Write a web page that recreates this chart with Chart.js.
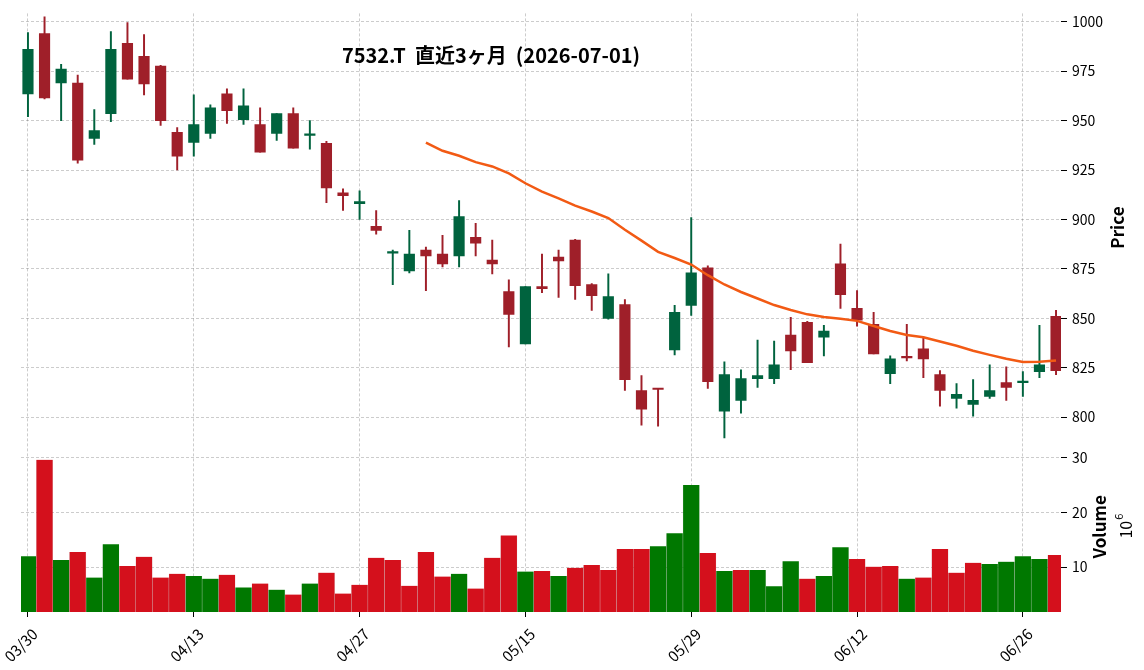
<!DOCTYPE html>
<html lang="ja">
<head>
<meta charset="utf-8">
<title>7532.T 直近3ヶ月</title>
<script src="https://cdn.jsdelivr.net/npm/chart.js@4.4.1/dist/chart.umd.min.js"></script>
<style>
  html, body { margin: 0; padding: 0; background: #fff; }
  #wrap { width: 1144px; height: 670px; }
</style>
</head>
<body>
<div id="wrap"><canvas id="chart" width="1144" height="670"></canvas></div>
<script>
// 営業日
const dates = ['03/30','03/31','04/01','04/02','04/03','04/06','04/07','04/08','04/09','04/10',
  '04/13','04/14','04/15','04/16','04/17','04/20','04/21','04/22','04/23','04/24',
  '04/27','04/28','04/30','05/01','05/07','05/08','05/11','05/12','05/13','05/14',
  '05/15','05/18','05/19','05/20','05/21','05/22','05/25','05/26','05/27','05/28',
  '05/29','06/01','06/02','06/03','06/04','06/05','06/08','06/09','06/10','06/11',
  '06/12','06/15','06/16','06/17','06/18','06/19','06/22','06/23','06/24','06/25',
  '06/26','06/29','06/30'];
const xTickIdx = [0, 10, 20, 30, 40, 50, 60];

// 四本値
const opens = [963.5, 994, 969, 969, 941, 953.5, 989, 982.5, 977.5, 944,
  939, 943.5, 963.5, 950.5, 948, 943.5, 953.5, 942.5, 938.5, 913.5,
  908, 896.5, 883, 874, 884.5, 882.5, 881.5, 891, 879.5, 863.5,
  837, 866, 881, 889.5, 867, 850, 857, 813.5, 814.5, 834,
  856.5, 875.5, 803, 808.5, 819.5, 819.5, 841.5, 848, 840.5, 877.5,
  855, 847, 822, 830.5, 834.5, 821.5, 809.5, 806.5, 810.5, 817.5,
  817.5, 823, 851];
const highs = [994.5, 1002.5, 978.5, 973, 955.5, 995, 999.5, 993.5, 978, 946.5,
  963, 958, 966, 966, 956.5, 953.5, 956.5, 950, 939.5, 915.5,
  914.5, 904.5, 884.5, 894.5, 886, 892, 909.5, 898, 889.5, 869.5,
  866, 882.5, 884.5, 890, 867.5, 872.5, 859.5, 821, 814.5, 856.5,
  901, 876.5, 828, 824, 839, 838.5, 850.5, 848.5, 846.5, 887.5,
  864, 853, 831, 847, 840.5, 823.5, 817, 819, 826.5, 825.5,
  823, 846.5, 854];
const lows = [952, 961, 950, 928.5, 938, 949.5, 971, 963, 947.5, 925,
  932, 941, 948.5, 948, 934, 940, 936, 935.5, 908.5, 904.5,
  900, 892.5, 867, 873, 864, 876, 876, 881.5, 872.5, 835.5,
  837, 863, 860.5, 859.5, 854, 849.5, 813.5, 796, 795.5, 831.5,
  851.5, 814.5, 789.5, 802, 815, 817, 824, 827.5, 831, 855,
  846, 832, 817, 828.5, 820, 805.5, 804.5, 800.5, 809.5, 808.5,
  810.5, 820, 821.5];
const closes = [986, 961.5, 976, 930, 945, 986, 971, 968.5, 950, 932,
  948, 956.5, 955, 957.5, 934, 953.5, 936, 943, 916, 912,
  909, 894.5, 883.5, 882.5, 881.5, 877.5, 901.5, 888, 877.5, 852,
  866, 865, 879, 866.5, 861.5, 861, 819, 804, 814, 853,
  873, 818, 821.5, 819.5, 821, 826.5, 833.5, 827.5, 843.5, 862,
  849, 832, 829.5, 830, 829.5, 813.5, 811.5, 808.5, 813.5, 815,
  818, 826.5, 823.5];

// 出来高 (10^6)
const volumes = [12.0, 29.6, 11.3, 12.75, 8.1, 14.2, 10.2, 11.9, 8.1, 8.8,
  8.4, 7.9, 8.6, 6.3, 7.0, 5.9, 5.0, 7.0, 9.0, 5.2,
  6.8, 11.7, 11.3, 6.6, 12.75, 8.3, 8.8, 6.1, 11.7, 15.8,
  9.2, 9.3, 8.4, 9.9, 10.4, 9.5, 13.3, 13.3, 13.8, 16.2,
  25.0, 12.6, 9.3, 9.5, 9.5, 6.5, 11.1, 7.9, 8.4, 13.65,
  11.5, 10.1, 10.2, 7.9, 8.1, 13.3, 9.0, 10.8, 10.6, 11.0,
  12.0, 11.5, 12.2];

// 25日移動平均（先頭24日は無し）
const ma25 = Array(24).fill(null).concat([938.9, 934.7, 932.2, 929, 926.8, 923.3,
  918.3, 914.1, 910.7, 907, 904, 900.7, 894.8, 889.3, 883.6, 880.5,
  877.2, 871.8, 867.1, 863.3, 860, 856.7, 854.2, 852, 850.7, 849.8,
  848.7, 846.1, 843.6, 841.6, 840.4, 838.3, 836.1, 833.6, 831.5, 829.5,
  827.9, 828, 828.7]);

const priceTicks = [800, 825, 850, 875, 900, 925, 950, 975, 1000];
const volumeTicks = [10, 20, 30];
const titleText = '7532.T  直近3ヶ月  (2026-07-01)';

const FONT = "'Noto Sans CJK JP', 'Noto Sans', sans-serif";
const UP = '#00633e', DOWN = '#9f1f29';
const VUP = '#007800', VDOWN = '#d4101c';
const GRID = 'rgba(0,0,0,0.25)';

Chart.defaults.font.family = FONT;
Chart.defaults.color = '#000';

const candleColors = opens.map((o, i) => closes[i] >= o ? UP : DOWN);
const volColors = closes.map((c, i) => (i === 0 || c >= closes[i - 1]) ? VUP : VDOWN);

// 軸ラベル・タイトル
const textPlugin = {
  id: 'texts',
  afterDraw(chart) {
    const ctx = chart.ctx;
    const area = chart.chartArea;
    const py = chart.scales.y, vy = chart.scales.v;
    ctx.save();
    ctx.fillStyle = '#000';
    ctx.textAlign = 'center';
    ctx.textBaseline = 'middle';
    ctx.font = 'bold 20px ' + FONT;
    ctx.fillText(titleText, 491, 55);

    ctx.font = '600 17px ' + FONT;
    ctx.save();
    ctx.translate(area.right + 57, (py.top + py.bottom) / 2);
    ctx.rotate(-Math.PI / 2);
    ctx.fillText('Price', 0, 0);
    ctx.restore();

    ctx.save();
    ctx.translate(area.right + 39, (vy.top + vy.bottom) / 2);
    ctx.rotate(-Math.PI / 2);
    ctx.fillText('Volume', 0, 0);
    ctx.restore();

    ctx.save();
    ctx.translate(area.right + 65, (vy.top + vy.bottom) / 2 - 2);
    ctx.rotate(-Math.PI / 2);
    ctx.font = '16px ' + FONT;
    ctx.textAlign = 'right';
    ctx.fillText('10', 4, 0);
    ctx.font = '11px ' + FONT;
    ctx.textAlign = 'left';
    ctx.fillText('6', 5, -7);
    ctx.restore();
    ctx.restore();
  }
};

const xy = (arr) => arr.map((v, i) => ({ x: i, y: v }));

const gridOpts = {
  color: GRID,
  lineWidth: 0.8,
  tickColor: '#000',
  tickBorderDash: [],
  tickLength: 6,
  tickWidth: 1
};
const borderOpts = { display: false, dash: [3, 2] };

new Chart(document.getElementById('chart'), {
  type: 'bar',
  data: {
    datasets: [
      {
        type: 'line',
        label: 'MA25',
        data: xy(ma25),
        yAxisID: 'y',
        borderColor: '#f25a14',
        borderWidth: 2.5,
        pointRadius: 0,
        tension: 0,
        spanGaps: false,
        order: 0
      },
      {
        label: 'body',
        data: opens.map((o, i) => ({ x: i, y: [o, closes[i]] })),
        yAxisID: 'y',
        backgroundColor: candleColors,
        barThickness: 10.5,
        minBarLength: 1.5,
        grouped: false,
        order: 1
      },
      {
        label: 'wick',
        data: lows.map((l, i) => ({ x: i, y: [l, highs[i]] })),
        yAxisID: 'y',
        backgroundColor: candleColors,
        barThickness: 1.3,
        grouped: false,
        order: 2
      },
      {
        label: 'Volume',
        data: xy(volumes),
        yAxisID: 'v',
        backgroundColor: volColors,
        borderColor: 'rgba(0,0,0,0.12)',
        borderWidth: { left: 0.5, right: 0.5, top: 0, bottom: 0 },
        barPercentage: 1,
        categoryPercentage: 1,
        grouped: false,
        order: 3
      }
    ]
  },
  options: {
    responsive: false,
    animation: false,
    events: [],
    layout: { padding: { left: 21, top: 11, right: 0, bottom: 0 } },
    plugins: { legend: { display: false }, tooltip: { enabled: false } },
    scales: {
      x: {
        type: 'linear',
        min: -0.42,
        max: 62.3,
        offset: false,
        border: borderOpts,
        grid: Object.assign({}, gridOpts, { offset: false, tickLength: 5 }),
        afterBuildTicks: (s) => { s.ticks = xTickIdx.map(v => ({ value: v })); },
        afterFit: (s) => { s.height = 58; s.paddingLeft = 0; s.paddingRight = 0; },
        ticks: {
          autoSkip: false,
          minRotation: 45,
          maxRotation: 45,
          padding: 8,
          labelOffset: 7,
          font: { size: 15 },
          callback: (v) => dates[v]
        }
      },
      y: {
        type: 'linear',
        position: 'right',
        stack: 'panels',
        stackWeight: 430,
        min: 787.6,
        max: 1004.2,
        beginAtZero: false,
        border: borderOpts,
        grid: gridOpts,
        afterBuildTicks: (s) => { s.ticks = priceTicks.map(v => ({ value: v })); },
        afterFit: (s) => { s.width = 83; },
        ticks: { padding: 5, font: { size: 14 }, callback: (v) => String(v) }
      },
      v: {
        type: 'linear',
        position: 'right',
        stack: 'panels',
        stackWeight: 171,
        min: 1.82,
        max: 32.9,
        beginAtZero: false,
        border: borderOpts,
        grid: gridOpts,
        afterBuildTicks: (s) => { s.ticks = volumeTicks.map(v => ({ value: v })); },
        afterFit: (s) => { s.width = 83; },
        ticks: { padding: 5, font: { size: 14 }, callback: (v) => String(v) }
      }
    }
  },
  plugins: [textPlugin]
});
</script>
</body>
</html>
